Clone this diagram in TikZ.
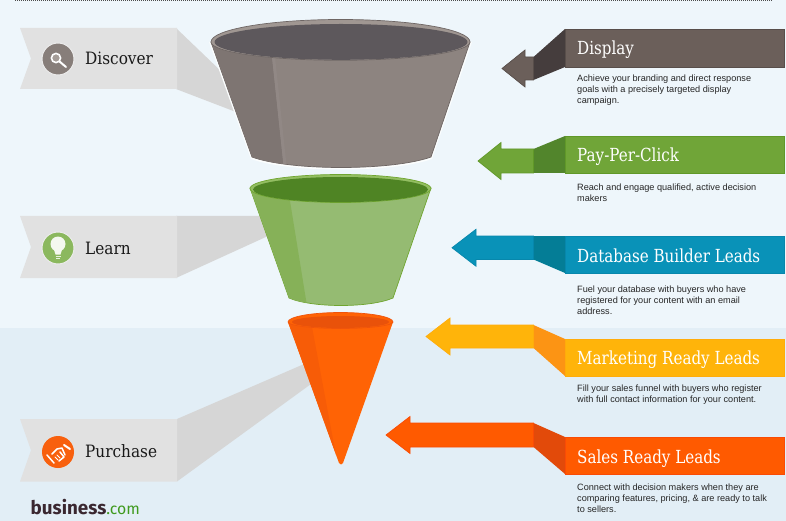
\documentclass[tikz,border=0pt]{standalone}
\usepackage{fontspec}
\setmainfont{Liberation Sans}
\newfontfamily\headf[FakeStretch=0.84]{DejaVu Serif}
\newfontfamily\tagf[FakeStretch=0.9]{DejaVu Serif}
\newfontfamily\logof{Fira Sans}
\definecolor{bgtop}{HTML}{EEF6FB}
\definecolor{bgbot}{HTML}{E2EEF6}
\definecolor{ban}{HTML}{E1E1E1}
\definecolor{fold}{HTML}{D6D6D6}
\definecolor{txt}{HTML}{262626}
\definecolor{fAbody}{HTML}{8D8480}
\definecolor{fAline}{HTML}{6E6664}
\definecolor{fAband}{HTML}{7E7572}
\definecolor{fAlite}{HTML}{918885}
\definecolor{fArim}{HTML}{A09792}
\definecolor{fAin}{HTML}{5D585C}
\definecolor{fBbody}{HTML}{95BB72}
\definecolor{fBline}{HTML}{70A530}
\definecolor{fBband}{HTML}{86B158}
\definecolor{fBrim}{HTML}{93BE62}
\definecolor{fBin}{HTML}{4F8424}
\definecolor{fCbody}{HTML}{FF6305}
\definecolor{fCband}{HTML}{F75C07}
\definecolor{fCline}{HTML}{F0540A}
\definecolor{fCin}{HTML}{E9520A}
\definecolor{aAm}{HTML}{6B5F5A}
\definecolor{aAb}{HTML}{584E4A}
\definecolor{aAf}{HTML}{453D3D}
\definecolor{aBm}{HTML}{70A538}
\definecolor{aBb}{HTML}{609828}
\definecolor{aBf}{HTML}{52852C}
\definecolor{aCm}{HTML}{0992B8}
\definecolor{aCb}{HTML}{0787AC}
\definecolor{aCf}{HTML}{047D96}
\definecolor{aDm}{HTML}{FFB40A}
\definecolor{aDb}{HTML}{FFAC0A}
\definecolor{aDf}{HTML}{FC9414}
\definecolor{aEm}{HTML}{FF5A00}
\definecolor{aEb}{HTML}{FA4B05}
\definecolor{aEf}{HTML}{E24A0A}
\definecolor{cA}{HTML}{877E7A}
\definecolor{cAin}{HTML}{A59D98}
\definecolor{cB}{HTML}{8BB85E}
\definecolor{cC}{HTML}{F8600E}
\tikzset{
  descr/.style={anchor=north west,inner sep=0pt,align=left,text=txt,font=\fontsize{9.15}{11}\selectfont},
  headl/.style={anchor=base west,inner sep=0pt,text=white,font=\headf\fontsize{18}{20}\selectfont},
  tagl/.style={anchor=base west,inner sep=0pt,text=black!90,font=\tagf\fontsize{17}{20}\selectfont},
  badge/.style={circle,draw=white!85!gray,line width=1pt,minimum size=32pt,inner sep=0pt},
}
\newcommand{\tagshape}[3]{%
  \fill[fold] #3;
  \fill[ban] (20,#1) -- (177,#1) -- (177,#2) -- (20,#2) -- (31,{(#1+#2)/2}) -- cycle;
}
\newcommand{\arrowband}[9]{%
  \fill[#3] (533.5,#6) -- (565,#8) -- (565,#9) -- (533.5,#7) -- cycle;
  \filldraw[fill=#1,draw=#2,line width=.7pt,line join=miter]
    (#4,{(#6+#7)/2}) -- (#5,{(#6+#7)/2-18.5}) -- (#5,#6) -- (533.5,#6) -- (533.5,#7) -- (#5,#7) -- (#5,{(#6+#7)/2+18.5}) -- cycle;
  \filldraw[fill=#1,draw=#2,line width=.7pt] (565,#8) rectangle (784.5,#9);
}
% rim outline: centre x, centre y, x radius, height above, height below
\newcommand{\rimpath}[5]{%
  (#1-#3,#2) .. controls (#1-#3,#2-.5523*#4) and (#1-.5523*#3,#2-#4) .. (#1,#2-#4)
  .. controls (#1+.5523*#3,#2-#4) and (#1+#3,#2-.5523*#4) .. (#1+#3,#2)
  .. controls (#1+#3,#2+.5523*#5) and (#1+.5523*#3,#2+#5) .. (#1,#2+#5)
  .. controls (#1-.5523*#3,#2+#5) and (#1-#3,#2+.5523*#5) .. (#1-#3,#2) -- cycle}
\begin{document}
\begin{tikzpicture}[x=1pt,y=-1pt]
\useasboundingbox (0,0) rectangle (786,521);
\fill[bgtop] (0,0) rectangle (786,328);
\fill[bgbot] (0,328) rectangle (786,521);
\draw[black!70,line width=1pt,dash pattern=on 1pt off 1pt] (15,.5) -- (772,.5);

% tags
\tagshape{28}{89}{(176,28) -- (225,75) -- (236,112) -- (176,89) -- cycle}
\tagshape{216}{278}{(176,216) -- (262,216) -- (268,236) -- (176,278) -- cycle}
\tagshape{419}{481.5}{(177,419) -- (303,364.5) -- (311,384) -- (177,481.5) -- cycle}

% funnel 1
\def\bodyA{(211,42) -- (252,157) .. controls (290,171) and (392,171) .. (431,157) -- (470,42) -- cycle}
\fill[white!85!bgtop] (209,42) -- (251,159) .. controls (290,173) and (392,173) .. (432,159) -- (472,42) -- cycle;
\filldraw[fill=fAbody,draw=fAline,line width=.7pt] \bodyA;
\begin{scope}
\clip \bodyA;
\fill[fAband] (205,40) -- (272,40) -- (272,57) -- (284,170) -- (205,170) -- cycle;
\fill[fAlite] (272,57) -- (275,57) -- (287,170) -- (284,170) -- cycle;
\end{scope}
\filldraw[fill=fArim,draw=fAline,line width=.7pt] \rimpath{340.5}{42}{129.5}{22.5}{18.3};
\fill[fAin] \rimpath{341}{42}{126.5}{18}{17.8};

% funnel 2
\def\bodyB{(250,188) -- (289,298) .. controls (312,308) and (370,308) .. (393,298) -- (431,188) -- cycle}
\filldraw[fill=fBbody,draw=fBline,line width=.7pt] \bodyB;
\begin{scope}
\clip \bodyB;
\fill[fBband] (245,185) -- (290,185) -- (290,201) -- (307,306) -- (245,306) -- cycle;
\end{scope}
\filldraw[fill=fBrim,draw=fBline,line width=.7pt] \rimpath{340.5}{188.5}{90.5}{14}{14};
\fill[fBin] \rimpath{340.5}{189.5}{87.5}{12.5}{12.7};

% funnel 3
\def\bodyC{(288,322) -- (339,463) .. controls (340,465) and (342,465) .. (343,463) -- (393,322) -- cycle}
\fill[fCbody] \bodyC;
\begin{scope}
\clip \bodyC;
\fill[fCband] (285,320) -- (312,320) -- (312,327) -- (338,466) -- (285,466) -- cycle;
\end{scope}
\filldraw[fill=fCbody,draw=fCline,line width=.7pt] \rimpath{340.5}{322}{52.5}{9.5}{6.5};
\fill[fCin] \rimpath{340.5}{322}{48.5}{6}{6};

% arrows
\arrowband{aAm}{aAb}{aAf}{502}{525}{57}{80}{29}{67}
\arrowband{aBm}{aBb}{aBf}{478}{501}{149}{173}{136}{173}
\arrowband{aCm}{aCb}{aCf}{452}{476}{236}{259.5}{236}{273}
\arrowband{aDm}{aDb}{aDf}{426}{450}{325}{348}{339}{376}
\arrowband{aEm}{aEb}{aEf}{386}{410}{423}{447}{437}{474}

% headings
\node[headl] (h1) at (577,54.5) {Display};
\node[headl] (h2) at (577,162) {Pay-Per-Click};
\node[headl] (h3) at (577,262) {Database Builder Leads};
\node[headl] (h4) at (577,364) {Marketing Ready Leads};
\node[headl] (h5) at (577,463) {Sales Ready Leads};

% descriptions
\node[descr] (d1) at (577,73.3) {\strut Achieve your branding and direct response\\goals with a precisely targeted display\\campaign.};
\node[descr] (d2) at (577,182.3) {\strut Reach and engage qualified, active decision\\makers};
\node[descr] (d3) at (577,284.3) {\strut Fuel your database with buyers who have\\registered for your content with an email\\address.};
\node[descr] (d4) at (577,383.3) {\strut Fill your sales funnel with buyers who register\\with full contact information for your content.};
\node[descr] (d5) at (577,482.3) {\strut Connect with decision makers when they are\\comparing features, pricing, \& are ready to talk\\to sellers.};

% badges
\node[badge,fill=cA] (c1) at (58,59) {};
\node[badge,fill=cB] (c2) at (58,248) {};
\node[badge,fill=cC,draw=none] (c3) at (58,452) {};
% magnifier
\draw[white,line width=1.6pt,fill=cAin] (56,58) circle [radius=4.6pt];
\draw[white,line width=2pt,line cap=round] (59.5,61.5) -- (66,67);
% bulb
\fill[white!90!cB] (58,244) circle [radius=7.5pt];
\fill[white!90!cB] (53.5,248) -- (62.5,248) -- (60.5,254.5) -- (55.5,254.5) -- cycle;
\draw[white!80!cB,line width=.8pt] (55.5,256) -- (60.5,256) (56,258) -- (60,258);
% handshake
\begin{scope}[white,line width=1.5pt,line cap=round,line join=round]
\draw (47,455) -- (54,463);
\draw (52,454) -- (57,449) -- (62,448) -- (65,455);
\draw (60,452) -- (64,457) -- (59,461);
\draw[line width=2pt] (64,445) -- (70,449);
\draw[line width=1pt] (55,457) -- (58,460) (57,455) -- (60,458);
\end{scope}

% tag labels
\node[tagl] (t1) at (85,65) {Discover};
\node[tagl] (t2) at (85,254) {Learn};
\node[tagl] (t3) at (85,457) {Purchase};

% logo
\node[anchor=base west,inner sep=0pt,font=\logof\fontsize{18.8}{24}\selectfont] (logo) at (30.5,514.5) {\textcolor[HTML]{3A2730}{\bfseries business}\textcolor[HTML]{3F9A1E}{\fontsize{15.8}{24}\selectfont .com}};
\end{tikzpicture}
\end{document}
